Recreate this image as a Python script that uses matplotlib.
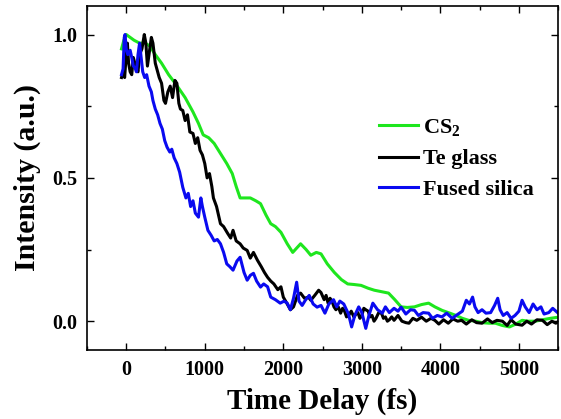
import matplotlib
matplotlib.use("Agg")
import matplotlib.pyplot as plt
from matplotlib.ticker import MultipleLocator

# traces: (time delay fs, normalised intensity)
cs2 = [(-60, 0.95), (-30, 0.98), (0, 1.0), (50, 0.99), (100, 0.98), (170, 0.97),
       (240, 0.97), (300, 0.96), (370, 0.93), (450, 0.90), (540, 0.86), (650, 0.82),
       (750, 0.78), (850, 0.73), (920, 0.69), (980, 0.65), (1050, 0.64), (1120, 0.62),
       (1200, 0.585), (1280, 0.55), (1350, 0.515), (1400, 0.47), (1450, 0.43),
       (1520, 0.43), (1580, 0.43), (1650, 0.42), (1710, 0.41), (1780, 0.37),
       (1840, 0.34), (1900, 0.33), (1970, 0.31), (2050, 0.27), (2120, 0.24),
       (2170, 0.255), (2220, 0.27), (2290, 0.25), (2350, 0.23), (2420, 0.24),
       (2480, 0.235), (2560, 0.20), (2650, 0.17), (2740, 0.145), (2820, 0.13),
       (2900, 0.128), (2990, 0.125), (3080, 0.115), (3160, 0.108), (3250, 0.103),
       (3340, 0.098), (3420, 0.075), (3500, 0.05), (3580, 0.048), (3670, 0.05),
       (3760, 0.058), (3850, 0.063), (3930, 0.05), (4020, 0.038), (4100, 0.03),
       (4200, 0.02), (4280, 0.01), (4360, 0.003), (4450, 0.0), (4530, -0.005),
       (4620, -0.007), (4700, -0.007), (4790, -0.015), (4880, -0.02), (4960, -0.01),
       (5040, 0.003), (5120, 0.0), (5210, 0.0), (5300, 0.005), (5400, 0.01),
       (5500, 0.014)]

te_glass = [(-60, 0.85), (-40, 0.87), (-20, 0.85), (0, 0.93), (15, 0.97), (30, 0.90),
            (50, 0.87), (70, 0.86), (90, 0.92), (110, 0.90), (130, 0.88), (150, 0.87),
            (170, 0.93), (200, 0.95), (230, 1.0), (250, 0.97), (270, 0.89), (290, 0.93),
            (320, 0.99), (340, 0.97), (370, 0.90), (390, 0.88), (420, 0.85), (450, 0.83),
            (480, 0.77), (500, 0.76), (530, 0.80), (560, 0.82), (590, 0.78), (620, 0.84),
            (645, 0.83), (670, 0.76), (690, 0.74), (720, 0.735), (750, 0.70), (780, 0.72),
            (810, 0.66), (850, 0.655), (880, 0.62), (910, 0.64), (940, 0.596), (970, 0.58),
            (1000, 0.55), (1030, 0.50), (1060, 0.515), (1090, 0.47), (1110, 0.43),
            (1150, 0.40), (1200, 0.34), (1240, 0.33), (1290, 0.307), (1330, 0.29),
            (1360, 0.317), (1400, 0.28), (1450, 0.27), (1490, 0.255), (1540, 0.247),
            (1580, 0.22), (1620, 0.24), (1670, 0.213), (1720, 0.19), (1760, 0.17),
            (1800, 0.153), (1840, 0.14), (1880, 0.13), (1930, 0.11), (1970, 0.12),
            (2000, 0.084), (2050, 0.06), (2090, 0.04), (2130, 0.05), (2180, 0.09),
            (2220, 0.098), (2270, 0.08), (2320, 0.084), (2350, 0.073), (2400, 0.09),
            (2450, 0.108), (2480, 0.10), (2520, 0.075), (2545, 0.09), (2570, 0.063),
            (2595, 0.08), (2620, 0.07), (2645, 0.05), (2670, 0.04), (2700, 0.05),
            (2730, 0.028), (2755, 0.045), (2780, 0.035), (2805, 0.015), (2830, 0.02),
            (2865, 0.035), (2900, 0.014), (2925, 0.025), (2950, 0.03), (2975, 0.01),
            (3000, 0.02), (3025, 0.045), (3050, 0.04), (3080, 0.035), (3105, 0.015),
            (3130, 0.02), (3155, 0.0), (3180, 0.01), (3215, 0.03), (3250, 0.028),
            (3275, 0.01), (3300, 0.015), (3325, 0.0), (3350, 0.005), (3380, 0.015),
            (3410, 0.003), (3460, 0.02), (3510, 0.0), (3560, -0.005), (3600, -0.007),
            (3650, 0.01), (3700, 0.003), (3760, 0.014), (3820, 0.0), (3880, 0.01),
            (3930, 0.003), (3980, -0.01), (4040, 0.005), (4100, -0.007), (4160, 0.008),
            (4220, 0.0), (4270, 0.003), (4330, -0.01), (4400, 0.005), (4460, -0.005),
            (4530, -0.007), (4600, 0.008), (4660, -0.005), (4720, 0.003), (4790, 0.0),
            (4850, -0.015), (4900, 0.005), (4960, -0.01), (5040, -0.014), (5100, 0.0),
            (5160, -0.01), (5230, 0.005), (5300, 0.003), (5360, -0.012), (5420, 0.0),
            (5470, -0.007), (5510, 0.0)]

fused_silica = [(-60, 0.86), (-40, 0.88), (-25, 0.99), (-15, 1.0), (0, 0.95), (20, 0.93),
                (50, 0.945), (70, 0.92), (90, 0.89), (110, 0.885), (130, 0.87), (150, 0.93),
                (170, 0.97), (190, 0.92), (210, 0.87), (235, 0.85), (260, 0.86), (290, 0.82),
                (320, 0.80), (340, 0.77), (370, 0.74), (400, 0.72), (430, 0.69), (460, 0.67),
                (490, 0.63), (520, 0.607), (555, 0.59), (580, 0.60), (610, 0.57), (645, 0.55),
                (680, 0.52), (720, 0.467), (760, 0.43), (790, 0.446), (820, 0.40),
                (850, 0.42), (880, 0.377), (920, 0.363), (950, 0.43), (970, 0.40),
                (1000, 0.363), (1040, 0.317), (1080, 0.30), (1120, 0.28), (1160, 0.285),
                (1200, 0.27), (1240, 0.24), (1280, 0.20), (1320, 0.19), (1360, 0.178),
                (1410, 0.21), (1450, 0.223), (1500, 0.17), (1540, 0.143), (1580, 0.16),
                (1620, 0.167), (1660, 0.14), (1710, 0.119), (1750, 0.13), (1800, 0.12),
                (1840, 0.084), (1900, 0.075), (1960, 0.063), (2010, 0.07), (2050, 0.063),
                (2090, 0.04), (2130, 0.08), (2170, 0.136), (2200, 0.07), (2240, 0.055),
                (2280, 0.073), (2330, 0.09), (2380, 0.06), (2430, 0.049), (2480, 0.055),
                (2530, 0.028), (2580, 0.06), (2640, 0.075), (2680, 0.05), (2720, 0.07),
                (2770, 0.06), (2830, 0.025), (2870, -0.02), (2910, 0.02), (2960, 0.05),
                (3000, 0.03), (3050, -0.025), (3090, 0.02), (3140, 0.063), (3200, 0.04),
                (3260, 0.028), (3300, 0.05), (3350, 0.03), (3410, 0.045), (3460, 0.035),
                (3500, 0.049), (3560, 0.025), (3620, 0.04), (3670, 0.038), (3720, 0.02),
                (3780, 0.03), (3850, 0.028), (3900, 0.01), (3960, 0.02), (4020, 0.015),
                (4080, 0.028), (4150, 0.01), (4200, 0.02), (4280, 0.035), (4330, 0.073),
                (4370, 0.06), (4410, 0.084), (4440, 0.05), (4480, 0.03), (4530, 0.04),
                (4580, 0.028), (4640, 0.03), (4690, 0.055), (4730, 0.08), (4760, 0.04),
                (4800, 0.02), (4850, 0.03), (4900, 0.01), (4950, 0.02), (5000, 0.035),
                (5040, 0.073), (5080, 0.05), (5130, 0.03), (5180, 0.06), (5230, 0.04),
                (5280, 0.05), (5320, 0.025), (5380, 0.03), (5430, 0.045), (5500, 0.028)]

labels = ["CS$_2$", "Te glass", "Fused silica"]
colors = ["#1ee61e", "black", "#0a0af0"]

plt.rcParams['font.family'] = ['Liberation Serif', 'DejaVu Serif']
plt.rcParams['font.weight'] = 'bold'
plt.rcParams['mathtext.fontset'] = 'custom'
plt.rcParams['mathtext.rm'] = 'Liberation Serif:bold'

fig = plt.figure(figsize=(5.61, 4.19), dpi=100)
ax = fig.add_axes([0.155, 0.165, 0.84, 0.821])

for series, lab, col in zip([cs2, te_glass, fused_silica], labels, colors):
    t, y = zip(*series)
    ax.plot(t, y, color=col, lw=2.2, label=lab)

ax.set_xlim(-500, 5500)
ax.set_ylim(-0.1, 1.1)
ax.xaxis.set_major_locator(MultipleLocator(1000))
ax.xaxis.set_minor_locator(MultipleLocator(500))
ax.yaxis.set_major_locator(MultipleLocator(0.5))
ax.yaxis.set_minor_locator(MultipleLocator(0.25))
ax.tick_params(which='both', direction='in', top=True, right=True, labelsize=14.5, width=1)
ax.tick_params(which='major', length=5, pad=7)
ax.tick_params(which='minor', length=3)
for s in ax.spines.values():
    s.set_linewidth(1.2)

ax.set_xlabel("Time Delay (fs)", fontsize=21, fontweight='bold', labelpad=6)
ax.set_ylabel("Intensity (a.u.)", fontsize=21.5, fontweight='bold', labelpad=8)

ax.legend(loc='upper left', bbox_to_anchor=(0.583, 0.728), frameon=False, fontsize=16,
          handlelength=1.75, handletextpad=0.2, labelspacing=0.45, borderpad=0.3)

fig.savefig("out.png", dpi=100)
